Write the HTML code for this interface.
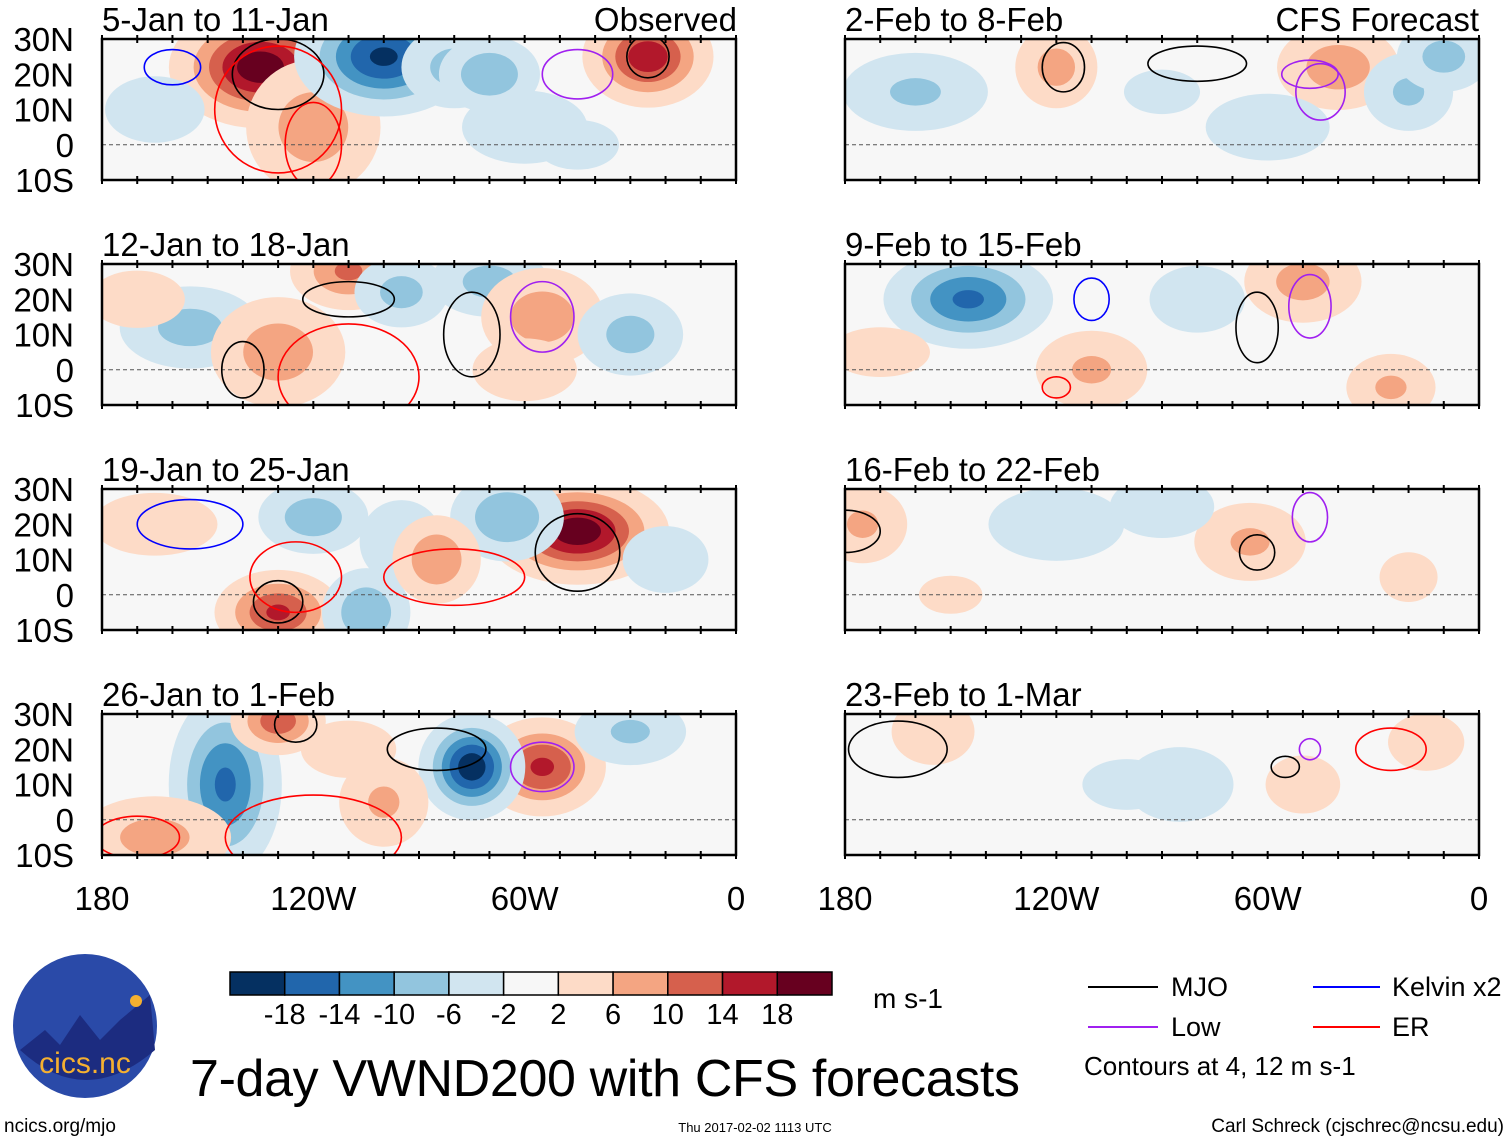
<!DOCTYPE html>
<html><head><meta charset="utf-8"><style>
body{margin:0;background:#fff;}
svg text{font-family:"Liberation Sans",sans-serif;}
</style></head><body>
<svg id="chart" width="1510" height="1142" viewBox="0 0 1510 1142" xmlns="http://www.w3.org/2000/svg" style="position:absolute;left:0;top:0">
<defs id="defs"></defs>
<g id="panels"></g>
<g id="static"></g>
</svg>
<script>
// ---- data ----
const panelTitles = ["5-Jan to 11-Jan","12-Jan to 18-Jan","19-Jan to 25-Jan","26-Jan to 1-Feb","2-Feb to 8-Feb","9-Feb to 15-Feb","16-Feb to 22-Feb","23-Feb to 1-Mar"];
const latTicks = ["30N","20N","10N","0","10S"];
const latValues = [30,20,10,0,-10];
const lonTicks = ["180","120W","60W","0"];
const lonValues = [-180,-120,-60,0];
const levels = [-18,-14,-10,-6,-2,2,6,10,14,18];
const levelColors = ["#053061","#2166ac","#4393c3","#92c5de","#d1e5f0","#f7f7f7","#fddbc7","#f4a582","#d6604d","#b2182b","#67001f"];
// anomaly blobs: panel index, lon, lat, amplitude (m/s), spread lon, spread lat
const blobPanel = [0,0,0,0,0,0,0,0,0, 1,1,1,1,1,1,1,1,1, 2,2,2,2,2,2,2,2,2, 3,3,3,3,3,3,3,3, 4,4,4,4,4,4,4, 5,5,5,5,5,5, 6,6,6,6,6,6, 7,7,7,7,7];
const blobLon =   [-135,-120,-100,-80,-25,-60,-70,-165,-45, -155,-130,-110,-95,-70,-55,-30,-60,-170, -45,-65,-120,-95,-130,-105,-85,-165,-20, -145,-130,-55,-75,-165,-100,-30,-110, -160,-120,-40,-20,-60,-10,-90, -145,-110,-50,-25,-80,-170, -175,-120,-65,-90,-20,-150, -155,-85,-50,-15,-100];
const blobLat =   [22,5,25,22,25,5,20,10,0, 12,5,28,22,25,15,10,0,20, 18,22,22,15,-5,-5,10,20,10, 10,28,15,15,-5,5,25,20, 15,22,22,15,5,25,15, 20,0,25,-5,20,5, 20,20,15,25,5,0, 25,10,10,22,10];
const blobAmp =   [21,9,-19,-8,17,-6,-10,-4,-4, -8,9,11,-8,-8,9,-8,6,5, 21,-10,-9,-6,15,-10,10,6,-5, -15,13,15,-21,8,7,-7,5, -7,8,9,-7,-5,-8,-3, -15,7,8,7,-5,4, 7,-6,7,-6,4,3, 4,-4,4,5,-3];
const blobSx =    [12,11,12,9,9,12,8,12,10, 12,11,9,8,10,10,9,10,10, 12,9,9,8,9,7,7,12,9, 8,7,9,7,13,8,10,10, 13,7,10,8,13,8,12, 12,10,10,8,10,12, 8,13,10,10,7,10, 10,13,9,8,14];
const blobSy =    [8,11,8,7,7,7,6,8,6, 7,9,6,6,6,8,7,6,6, 7,7,6,8,6,7,7,6,7, 13,5,7,7,7,8,6,6, 7,7,7,7,7,6,7, 7,7,7,6,7,6, 7,7,7,6,6,6, 8,9,7,6,8];
// contours: panel, lon, lat, radius lon, radius lat, type index (0 MJO, 1 Kelvin, 2 Low, 3 ER)
const ctPanel = [0,0,0,0,0,0, 1,1,1,1,1, 2,2,2,2,2, 3,3,3,3,3, 4,4,4,4, 5,5,5,5, 6,6,6, 7,7,7,7];
const ctLon =   [-130,-130,-160,-45,-25,-120, -75,-55,-110,-140,-110, -45,-130,-155,-125,-80, -125,-55,-85,-170,-120, -118,-80,-48,-45, -63,-48,-110,-120, -63,-48,-180, -165,-55,-48,-25];
const ctLat =   [20,10,22,20,25,0, 10,15,20,0,-2, 12,-2,20,5,5, 27,15,20,-5,-5, 22,23,20,15, 12,18,20,-5, 12,22,18, 20,15,20,20];
const ctRx =    [13,18,8,10,6,8, 8,9,13,6,20, 12,7,15,13,20, 6,9,14,12,25, 6,14,8,7, 6,6,5,4, 5,5,10, 14,4,3,10];
const ctRy =    [10,18,5,7,6,12, 12,10,5,8,15, 11,6,7,10,8, 5,7,6,6,12, 7,5,4,8, 10,9,6,3, 5,7,6, 8,3,3,6];
const ctType =  [0,3,1,2,0,3, 0,2,0,0,3, 0,0,1,3,3, 0,2,0,3,3, 0,0,2,2, 0,2,1,3, 0,2,0, 0,0,2,3];
const typeColors = ["#000000","#0000ff","#a020f0","#ff0000"];

// ---- layout ----
const NS = 'http://www.w3.org/2000/svg';
const colX = [102, 845], W = 634;
const rowY = [39, 264, 489, 714], H = 141;
function xScale(c, lon){ return colX[c] + (lon + 180) / 180 * W; }
function yScale(r, lat){ return rowY[r] + (30 - lat) / 40 * H; }
function mk(tag, parent){ const e = document.createElementNS(NS, tag); parent.appendChild(e); return e; }
function colorFor(v){ let i = 0; while (i < levels.length && v > levels[i]) i++; return levelColors[i]; }

const defs = document.getElementById('defs');
const panelsG = document.getElementById('panels');
for (let p = 0; p < 8; p++) {
  const c = p < 4 ? 0 : 1, r = p % 4;
  const cp = mk('clipPath', defs); cp.setAttribute('id', 'clip' + p);
  const cr = mk('rect', cp); cr.setAttribute('x', colX[c]); cr.setAttribute('y', rowY[r]); cr.setAttribute('width', W); cr.setAttribute('height', H);
  const g = mk('g', panelsG);
  
  
  const inner = mk('g', g); inner.setAttribute('clip-path', 'url(#clip' + p + ')');
  const bg = mk('rect', inner); bg.setAttribute('x', colX[c]); bg.setAttribute('y', rowY[r]); bg.setAttribute('width', W); bg.setAttribute('height', H); bg.setAttribute('fill', '#f7f7f7');
  for (let b = 0; b < blobPanel.length; b++) {
    if (blobPanel[b] !== p) continue;
    const A = blobAmp[b], sgn = Math.sign(A);
    const lvls = levels.filter(L => Math.sign(L) === sgn && Math.abs(L) < Math.abs(A)).sort((a, b2) => Math.abs(a) - Math.abs(b2));
    for (const L of lvls) {
      const k = Math.sqrt(2 * Math.log(A / L));
      const e = mk('ellipse', inner);
      
      
      e.setAttribute('cx', xScale(c, blobLon[b])); e.setAttribute('cy', yScale(r, blobLat[b]));
      e.setAttribute('rx', k * blobSx[b] / 180 * W); e.setAttribute('ry', k * blobSy[b] / 40 * H);
      e.setAttribute('fill', colorFor(L + sgn * 0.1));
    }
  }
  const eq = mk('line', inner);
  
  
  eq.setAttribute('x1', colX[c]); eq.setAttribute('x2', colX[c] + W); eq.setAttribute('y1', yScale(r, 0)); eq.setAttribute('y2', yScale(r, 0));
  eq.setAttribute('stroke', '#555'); eq.setAttribute('stroke-dasharray', '4,3'); eq.setAttribute('stroke-width', '1');
  for (let k = 0; k < ctPanel.length; k++) {
    if (ctPanel[k] !== p) continue;
    const e = mk('ellipse', inner);
    
    
    e.setAttribute('cx', xScale(c, ctLon[k])); e.setAttribute('cy', yScale(r, ctLat[k]));
    e.setAttribute('rx', ctRx[k] / 180 * W); e.setAttribute('ry', ctRy[k] / 40 * H);
    e.setAttribute('fill', 'none'); e.setAttribute('stroke', typeColors[ctType[k]]); e.setAttribute('stroke-width', '1.6');
  }
  const fr = mk('rect', g);
  
  
  fr.setAttribute('x', colX[c]); fr.setAttribute('y', rowY[r]); fr.setAttribute('width', W); fr.setAttribute('height', H);
  fr.setAttribute('fill', 'none'); fr.setAttribute('stroke', '#000'); fr.setAttribute('stroke-width', '2.5');
  const t = mk('text', g);
  
  
  t.setAttribute('x', colX[c]); t.setAttribute('y', rowY[r] - 8); t.setAttribute('font-size', '33');
  t.textContent = panelTitles[p];
  for (let lon = -180; lon <= 0; lon += 10) {
    for (const yy of [rowY[r], rowY[r] + H]) {
      const tk = mk('line', g);
      tk.setAttribute('x1', xScale(c, lon)); tk.setAttribute('x2', xScale(c, lon));
      tk.setAttribute('y1', yy - 4); tk.setAttribute('y2', yy + 4); tk.setAttribute('stroke', '#000'); tk.setAttribute('stroke-width', '2');
    }
  }
  if (c === 0) {
    for (let i = 0; i < latTicks.length; i++) {
      const lt = mk('text', g);
      
      
      lt.setAttribute('x', 74); lt.setAttribute('y', yScale(r, latValues[i]) + 12);
      lt.setAttribute('text-anchor', 'end'); lt.setAttribute('font-size', '33');
      lt.textContent = latTicks[i];
    }
  }
}
const st = document.getElementById('static');
const obs = mk('text', st);


obs.setAttribute('x', 737); obs.setAttribute('y', 31); obs.setAttribute('text-anchor', 'end'); obs.setAttribute('font-size', '33'); obs.textContent = 'Observed';
const cfs = mk('text', st);


cfs.setAttribute('x', 1479); cfs.setAttribute('y', 31); cfs.setAttribute('text-anchor', 'end'); cfs.setAttribute('font-size', '33'); cfs.textContent = 'CFS Forecast';
for (let c = 0; c < 2; c++) for (let i = 0; i < lonTicks.length; i++) {
  const t = mk('text', st);
  
  
  t.setAttribute('x', xScale(c, lonValues[i])); t.setAttribute('y', 910); t.setAttribute('text-anchor', 'middle'); t.setAttribute('font-size', '33');
  t.textContent = lonTicks[i];
}
const cbX = 230, cbW = 602 / 11;
for (let i = 0; i < 11; i++) {
  const r = mk('rect', st);
  
  
  r.setAttribute('x', cbX + i * cbW); r.setAttribute('y', 972); r.setAttribute('width', cbW); r.setAttribute('height', 23);
  r.setAttribute('fill', levelColors[i]); r.setAttribute('stroke', '#000'); r.setAttribute('stroke-width', '1.5');
}
for (let i = 0; i < levels.length; i++) {
  const t = mk('text', st);
  
  
  t.setAttribute('x', cbX + (i + 1) * cbW); t.setAttribute('y', 1024); t.setAttribute('text-anchor', 'middle'); t.setAttribute('font-size', '29');
  t.textContent = levels[i];
}
</script>
<svg width="1510" height="1142" style="position:absolute;left:0;top:0">
  <text x="873" y="1008" font-size="28" font-family="Liberation Sans, sans-serif">m s-1</text>
  <g font-family="Liberation Sans, sans-serif" font-size="27">
    <line x1="1088" y1="987" x2="1158" y2="987" stroke="#000" stroke-width="2"/><text x="1171" y="996">MJO</text>
    <line x1="1313" y1="987" x2="1380" y2="987" stroke="#0000ff" stroke-width="2"/><text x="1392" y="996">Kelvin x2</text>
    <line x1="1088" y1="1027" x2="1158" y2="1027" stroke="#a020f0" stroke-width="2"/><text x="1171" y="1036">Low</text>
    <line x1="1313" y1="1027" x2="1380" y2="1027" stroke="#ff0000" stroke-width="2"/><text x="1392" y="1036">ER</text>
    <text x="1084" y="1075" font-size="26">Contours at 4, 12 m s-1</text>
  </g>
  <text x="190" y="1096" font-size="52" textLength="830" font-family="Liberation Sans, sans-serif">7-day VWND200 with CFS forecasts</text>
  <g>
    <ellipse cx="85" cy="1026" rx="72" ry="72" fill="#2a4aa8"/>
    <path d="M20 1050 L45 1030 L60 1045 L80 1015 L100 1040 L120 1020 L150 995 L155 1050 Q85 1110 20 1050Z" fill="#1c2c80"/>
    <circle cx="136" cy="1001" r="6" fill="#f5b030"/>
    <text x="85" y="1073" font-size="30" fill="#f5b030" text-anchor="middle" font-family="Liberation Sans, sans-serif">cics.nc</text>
  </g>
  <text x="4" y="1132" font-size="19" font-family="Liberation Sans, sans-serif">ncics.org/mjo</text>
  <text x="755" y="1132" font-size="13" text-anchor="middle" font-family="Liberation Sans, sans-serif">Thu 2017-02-02 1113 UTC</text>
  <text x="1504" y="1132" font-size="19" text-anchor="end" font-family="Liberation Sans, sans-serif">Carl Schreck (cjschrec@ncsu.edu)</text>
</svg>
</body></html>
